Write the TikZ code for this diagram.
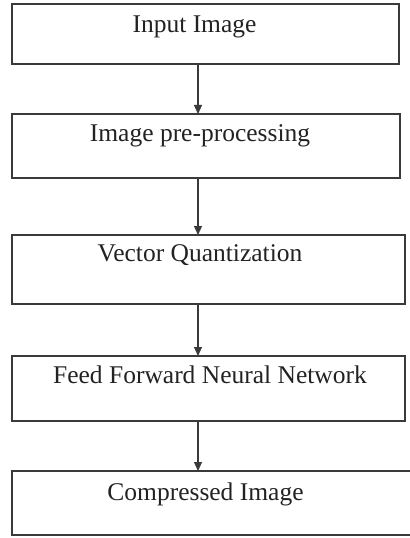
\documentclass[tikz,border=0pt]{standalone}
\usepackage{fontspec}
\setmainfont{Liberation Serif}
\usetikzlibrary{arrows.meta,calc}
\definecolor{linecol}{HTML}{3A3A3A}
\definecolor{textcol}{HTML}{222222}
\begin{document}
\begin{tikzpicture}[x=1bp,y=-1bp,
  stepbox/.style={draw=linecol, line width=1.3bp, rectangle, inner sep=0pt, outer sep=0pt, anchor=north west},
  label/.style={anchor=base, inner sep=0pt, text=textcol, font=\fontsize{25.5bp}{30bp}\selectfont},
  arr/.style={draw=linecol, line width=1.1bp, -{Triangle[length=9bp,width=8bp]}}]
\useasboundingbox (0,0) rectangle (409,538);
\node[stepbox, minimum width=387bp, minimum height=60bp] (b1) at (12,4) {};
\node[stepbox, minimum width=388bp, minimum height=64bp] (b2) at (12,114) {};
\node[stepbox, minimum width=393bp, minimum height=69bp] (b3) at (12,235) {};
\node[stepbox, minimum width=393bp, minimum height=65bp] (b4) at (12,356) {};
\node[stepbox, minimum width=400bp, minimum height=64bp] (b5) at (12,471) {};
\node[label] (t1) at (194.5,33) {Input Image};
\node[label] (t2) at (200,142) {Image pre-processing};
\node[label] (t3) at (200,261) {Vector Quantization};
\node[label] (t4) at (210,383) {Feed Forward Neural Network};
\node[label] (t5) at (205.5,500) {Compressed Image};
\coordinate (ax) at (198,0);
\draw[arr] (b1.south -| ax) -- (b2.north -| ax);
\draw[arr] (b2.south -| ax) -- (b3.north -| ax);
\draw[arr] (b3.south -| ax) -- (b4.north -| ax);
\draw[arr] (b4.south -| ax) -- (b5.north -| ax);
\end{tikzpicture}
\end{document}
